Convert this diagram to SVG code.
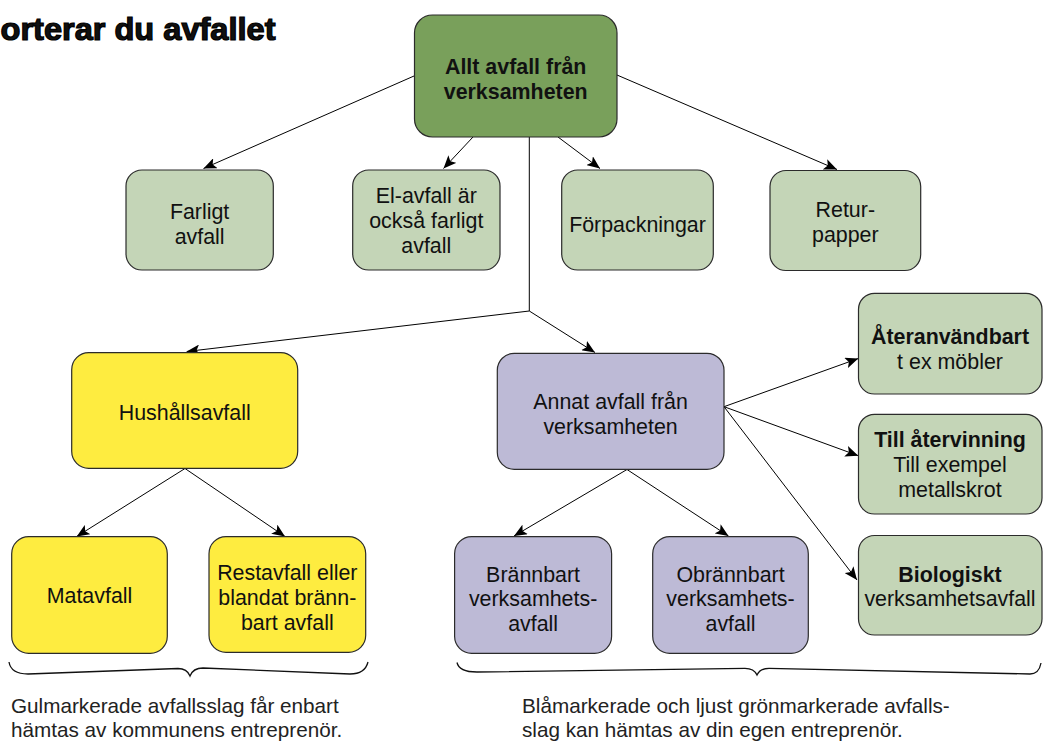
<svg xmlns="http://www.w3.org/2000/svg" width="1043" height="743" viewBox="0 0 1043 743">
<defs>
<marker id="arr" markerUnits="userSpaceOnUse" markerWidth="14" markerHeight="11" refX="13" refY="5.5" orient="auto">
<path d="M0,0 L13,5.5 L0,11 L3,5.5 Z" fill="#000"/>
</marker>
</defs>
<style>
.box{stroke:#2b2b2b;stroke-width:1.2}
.dg{fill:#79a05b}
.lg{fill:#c4d5b7}
.ye{fill:#feec40}
.pu{fill:#bdbad6}
text{font-family:"Liberation Sans",Arial,sans-serif;font-size:21.4px;fill:#111;text-anchor:middle}
.b{font-weight:bold}
.cap{font-size:20.7px;text-anchor:start;fill:#222}
.conn path{fill:none;stroke:#000;stroke-width:1;marker-end:url(#arr)}
.brace{fill:none;stroke:#111;stroke-width:1.3}
</style>
<rect width="1043" height="743" fill="#fff"/>
<text id="title" x="0.5" y="39.5" class="b" style="text-anchor:start;font-size:31px;stroke:#000;stroke-width:1.2" textLength="275" lengthAdjust="spacingAndGlyphs">orterar du avfallet</text>
<g class="conn" id="connectors">
<path d="M414,76 L203.5,168.5"/>
<path d="M473,137 L443.5,168.5"/>
<path d="M558,137 L600,168.5"/>
<path d="M617,75 L837,169.5"/>
<path d="M529.3,137 L529.3,311 L186.7,351.5"/>
<path d="M529.3,311 L595,352.5"/>
<path d="M185,468.5 L76.7,536.5"/>
<path d="M185,468.5 L285,536.5"/>
<path d="M627,469.5 L514,536"/>
<path d="M627,469.5 L728.5,536"/>
<path d="M724,406.7 L858.3,358.5"/>
<path d="M724,406.7 L858.3,455.7"/>
<path d="M724,406.7 L857,580"/>
</g>
<g id="n-top"><rect class="box dg" x="414.5" y="15" width="202.5" height="122" rx="18"/>
<text class="b" x="515.7" y="74">Allt avfall från</text><text class="b" x="515.7" y="99.3">verksamheten</text></g>
<g id="n-farligt"><rect class="box lg" x="126" y="170" width="147.3" height="100" rx="16"/>
<text x="199.6" y="219">Farligt</text><text x="199.6" y="244">avfall</text></g>
<g id="n-el"><rect class="box lg" x="352.7" y="170" width="147.3" height="100" rx="16"/>
<text x="426.3" y="202.5">El-avfall är</text><text x="426.3" y="227.5">också farligt</text><text x="426.3" y="252.5">avfall</text></g>
<g id="n-forp"><rect class="box lg" x="561.7" y="170" width="151.6" height="100" rx="16"/>
<text x="637.5" y="231.7">Förpackningar</text></g>
<g id="n-retur"><rect class="box lg" x="770" y="170.5" width="150.7" height="100" rx="16"/>
<text x="845.3" y="216.7">Retur-</text><text x="845.3" y="241.7">papper</text></g>
<g id="n-hush"><rect class="box ye" x="71.7" y="352.7" width="226" height="115.6" rx="17"/>
<text x="184.7" y="420">Hushållsavfall</text></g>
<g id="n-annat"><rect class="box pu" x="497.3" y="353.3" width="226.7" height="116" rx="17"/>
<text x="610.6" y="408.8">Annat avfall från</text><text x="610.6" y="433.8">verksamheten</text></g>
<g id="n-ater"><rect class="box lg" x="858.5" y="293.3" width="183.5" height="100.7" rx="16"/>
<text class="b" x="950" y="344">Återanvändbart</text><text x="950" y="369">t ex möbler</text></g>
<g id="n-till"><rect class="box lg" x="858.5" y="414.3" width="183.5" height="99.7" rx="16"/>
<text class="b" x="950" y="446.7">Till återvinning</text><text x="950" y="471.7">Till exempel</text><text x="950" y="496.7">metallskrot</text></g>
<g id="n-bio"><rect class="box lg" x="858.5" y="535.5" width="183.5" height="99.5" rx="16"/>
<text class="b" x="950" y="581.5">Biologiskt</text><text x="950" y="606">verksamhetsavfall</text></g>
<g id="n-mat"><rect class="box ye" x="11.7" y="536.7" width="155.6" height="116.6" rx="17"/>
<text x="89.5" y="603">Matavfall</text></g>
<g id="n-rest"><rect class="box ye" x="209" y="536.7" width="156.7" height="115.6" rx="17"/>
<text x="287.3" y="580">Restavfall eller</text><text x="287.3" y="605">blandat bränn-</text><text x="287.3" y="630">bart avfall</text></g>
<g id="n-brann"><rect class="box pu" x="454.6" y="536.7" width="157" height="116.6" rx="17"/>
<text x="533.1" y="581.5">Brännbart</text><text x="533.1" y="606">verksamhets-</text><text x="533.1" y="630.7">avfall</text></g>
<g id="n-obrann"><rect class="box pu" x="652.7" y="536.7" width="155.6" height="116.6" rx="17"/>
<text x="730.5" y="581.5">Obrännbart</text><text x="730.5" y="606">verksamhets-</text><text x="730.5" y="630.7">avfall</text></g>
<g id="braces">
<path class="brace" d="M9,662 Q11,674 28,674 L178,668.5 Q187,668.5 190,676 Q193,668 203,668 L350,674 Q365,674 368,662"/>
<path class="brace" d="M457,662.5 Q459,672 477,672 L745,668.3 Q754,668.3 757,675 Q760,668.3 769,668.3 L1030,674 Q1039,674 1041,663"/>
</g>
<g id="captions">
<text class="cap" x="11" y="712.7">Gulmarkerade avfallsslag får enbart</text>
<text class="cap" x="11" y="736.7">hämtas av kommunens entreprenör.</text>
<text class="cap" x="522" y="712.7">Blåmarkerade och ljust grönmarkerade avfalls-</text>
<text class="cap" x="522" y="736.7">slag kan hämtas av din egen entreprenör.</text>
</g>
</svg>
